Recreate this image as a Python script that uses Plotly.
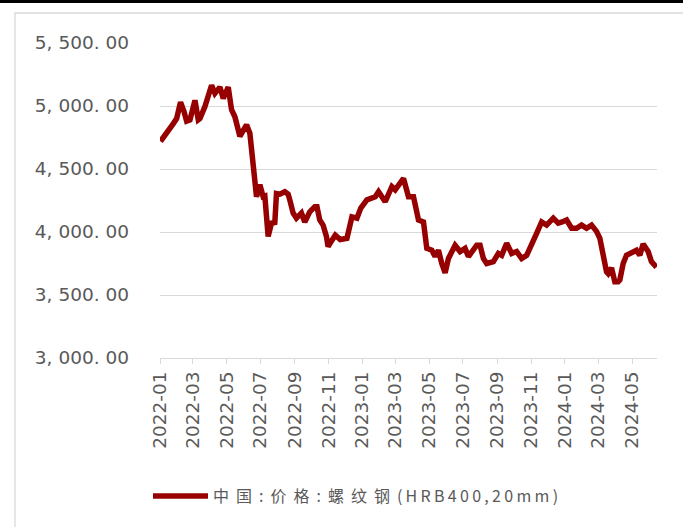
import plotly.graph_objects as go

series_name = "中国:价格:螺纹钢(HRB400,20mm)"

dates = [
    "2022-01-02", "2022-01-13", "2022-01-25", "2022-01-31", "2022-02-07", "2022-02-13",
    "2022-02-18", "2022-02-24", "2022-03-02", "2022-03-05", "2022-03-11", "2022-03-14",
    "2022-03-23", "2022-03-29", "2022-04-04", "2022-04-10", "2022-04-19", "2022-04-25",
    "2022-05-04", "2022-05-10", "2022-05-16", "2022-05-25", "2022-06-06", "2022-06-12",
    "2022-06-18", "2022-06-21", "2022-06-24", "2022-06-30", "2022-07-06", "2022-07-09",
    "2022-07-15", "2022-07-21", "2022-07-27", "2022-07-30", "2022-08-05", "2022-08-14",
    "2022-08-20", "2022-08-23", "2022-08-29", "2022-09-04", "2022-09-13", "2022-09-19",
    "2022-09-28", "2022-10-07", "2022-10-11", "2022-10-16", "2022-10-22", "2022-10-28",
    "2022-10-31", "2022-11-05", "2022-11-13", "2022-11-22", "2022-12-04", "2022-12-13",
    "2022-12-22", "2022-12-29", "2023-01-09", "2023-01-24", "2023-01-30", "2023-02-11",
    "2023-02-23", "2023-03-01", "2023-03-08", "2023-03-16", "2023-03-25", "2023-04-03",
    "2023-04-12", "2023-04-21", "2023-04-27", "2023-05-06", "2023-05-12", "2023-05-18",
    "2023-05-24", "2023-05-30", "2023-06-05", "2023-06-17", "2023-06-26", "2023-07-05",
    "2023-07-11", "2023-07-19", "2023-07-26", "2023-08-01", "2023-08-07", "2023-08-13",
    "2023-08-25", "2023-09-03", "2023-09-09", "2023-09-18", "2023-09-27", "2023-10-06",
    "2023-10-15", "2023-10-24", "2023-11-02", "2023-11-11", "2023-11-20", "2023-11-29",
    "2023-12-11", "2023-12-20", "2023-12-27", "2024-01-04", "2024-01-13", "2024-01-22",
    "2024-01-31", "2024-02-09", "2024-02-18", "2024-02-27", "2024-03-04", "2024-03-10",
    "2024-03-16", "2024-03-19", "2024-03-25", "2024-03-31", "2024-04-06", "2024-04-09",
    "2024-04-15", "2024-04-21", "2024-04-30", "2024-05-09", "2024-05-15", "2024-05-21",
    "2024-05-30", "2024-06-05", "2024-06-14",
]

prices = [
    4720, 4780, 4860, 4900, 5030, 4960,
    4880, 4890, 5020, 5045, 4890, 4900,
    4995, 5100, 5165, 5100, 5150, 5060,
    5150, 4970, 4915, 4760, 4850, 4785,
    4490, 4410, 4280, 4375, 4280, 4285,
    3965, 4070, 4075, 4305, 4300, 4320,
    4300, 4255, 4150, 4110, 4150, 4080,
    4160, 4200, 4200, 4095, 4055, 3965,
    3885, 3920, 3975, 3940, 3950, 4120,
    4110, 4190, 4255, 4280, 4320, 4240,
    4360, 4335, 4380, 4425, 4280, 4280,
    4095, 4080, 3870, 3855, 3805, 3855,
    3750, 3675, 3790, 3895, 3845, 3870,
    3805, 3850, 3895, 3895, 3790, 3750,
    3765, 3830, 3815, 3910, 3830, 3845,
    3790, 3815, 3895, 3990, 4080, 4055,
    4110, 4070, 4080, 4095, 4030, 4030,
    4055, 4030, 4055, 4005, 3950, 3805,
    3685, 3670, 3715, 3605, 3605, 3620,
    3750, 3815, 3830, 3855, 3815, 3905,
    3845, 3765, 3720,
]

x_tick_vals = [
    "2022-01-01", "2022-03-01", "2022-05-01", "2022-07-01", "2022-09-01", "2022-11-01",
    "2023-01-01", "2023-03-01", "2023-05-01", "2023-07-01", "2023-09-01", "2023-11-01",
    "2024-01-01", "2024-03-01", "2024-05-01",
]
x_tick_text = [
    "2022-01", "2022-03", "2022-05", "2022-07", "2022-09", "2022-11",
    "2023-01", "2023-03", "2023-05", "2023-07", "2023-09", "2023-11",
    "2024-01", "2024-03", "2024-05",
]
y_tick_vals = [3000, 3500, 4000, 4500, 5000, 5500]
y_tick_text = ["3, 000. 00", "3, 500. 00", "4, 000. 00", "4, 500. 00", "5, 000. 00", "5, 500. 00"]

W, H = 683, 527
L, R, T, B = 160, 26, 43, 169
pw, ph = W - L - R, H - T - B


def px(xp):
    return (xp - L) / pw


def py(yp):
    return (H - B - yp) / ph


tick_font = dict(family="DejaVu Sans", size=18.5, color="#595959")

cut = series_name.index("(")
legend_label = (
    '<span style="letter-spacing:7px">' + series_name[:cut] + '</span>'
    + '<span style="letter-spacing:3.3px">' + series_name[cut:] + '</span>'
)

fig = go.Figure()
fig.add_trace(go.Scatter(
    x=dates, y=prices, mode="lines", name=legend_label,
    line=dict(color="#960000", width=5.5),
))

fig.update_layout(
    width=W, height=H,
    margin=dict(l=L, r=R, t=T, b=B),
    paper_bgcolor="white", plot_bgcolor="white",
    showlegend=True,
    legend=dict(
        orientation="h", x=px(148), y=py(479), xanchor="left", yanchor="top",
        font=dict(family="Noto Sans CJK SC", size=16, color="#595959"),
        itemwidth=55, bgcolor="rgba(0,0,0,0)",
    ),
    xaxis=dict(
        type="date", range=["2022-01-01", "2024-06-15"],
        tickvals=x_tick_vals, ticktext=x_tick_text, tickangle=-90,
        tickfont=tick_font, showgrid=False, zeroline=False,
        showline=True, linecolor="#d9d9d9", linewidth=1.3,
        ticks="outside", ticklen=5, tickcolor="#d9d9d9", tickwidth=1.3,
    ),
    yaxis=dict(
        range=[3000, 5500], tickvals=y_tick_vals, ticktext=y_tick_text,
        tickfont=tick_font, showgrid=True, gridcolor="#d9d9d9", gridwidth=1.3,
        zeroline=False, showline=False, ticks="", ticklabelstandoff=30,
    ),
    shapes=[
        dict(type="rect", xref="paper", yref="paper",
             x0=px(-5), x1=px(W + 5), y0=py(3), y1=py(-5),
             fillcolor="black", line=dict(width=0), layer="above"),
        dict(type="rect", xref="paper", yref="paper",
             x0=px(15), x1=px(W + 20), y0=py(H + 20), y1=py(13),
             fillcolor="rgba(0,0,0,0)", line=dict(color="#d9d9d9", width=1.3), layer="below"),
    ],
)

fig.write_html("out.html")
